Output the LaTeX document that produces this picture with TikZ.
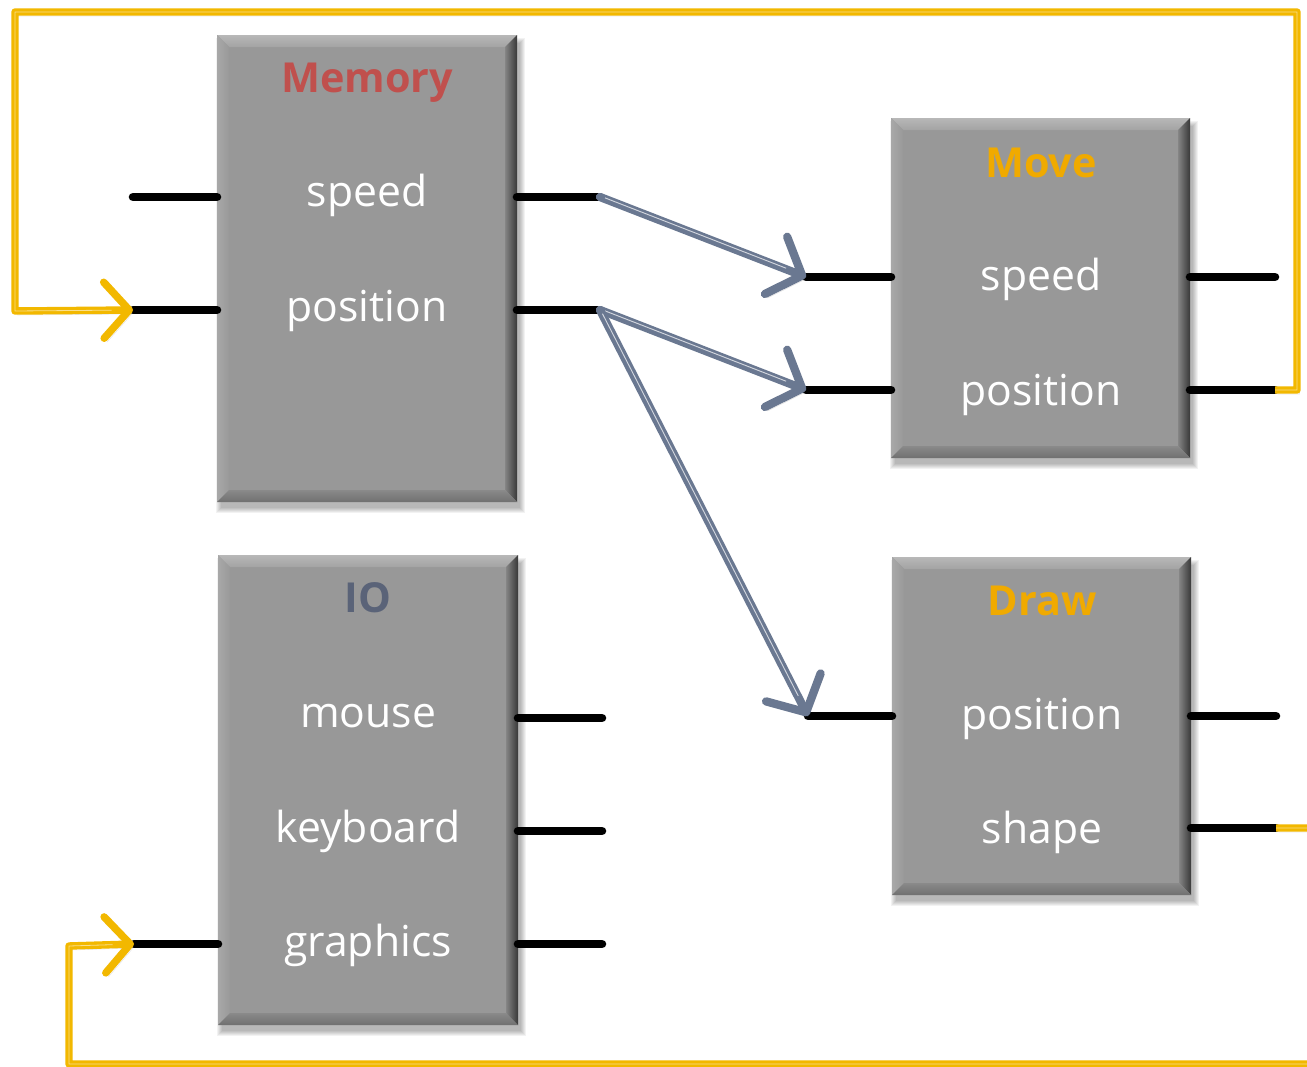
\documentclass[tikz,border=0pt]{standalone}
\usepackage{fontspec}
\setmainfont{Open Sans}
\usetikzlibrary{arrows.meta,calc,fit}
\definecolor{boxgray}{HTML}{989898}
\definecolor{memred}{HTML}{C0504D}
\definecolor{titlegold}{HTML}{F0AA00}
\definecolor{ioslate}{HTML}{5A6378}
\definecolor{flowslate}{HTML}{6A7891}
\definecolor{loopgold}{HTML}{F2B800}
\tikzset{
  frame/.style={inner sep=0pt, outer sep=0pt},
  portline/.style={line width=6.4pt, line cap=round, black},
  flow/.style={line width=6.2pt, flowslate, line cap=round, line join=round,
    -{Straight Barb[length=21pt,width=46pt,line cap=round,line join=round]},
    preaction={draw=black, opacity=0.12, transform canvas={shift={(2pt,-3pt)}}}},
  flowhi/.style={line width=0.7pt, white!70!flowslate, shorten >=16pt, shorten <=4pt,
    transform canvas={shift={(0pt,0.8pt)}}},
  loopback/.style={line width=5.6pt, loopgold, line join=round,
    -{Straight Barb[length=19pt,width=42pt,line cap=round,line join=round]},
    preaction={draw=black, opacity=0.10, transform canvas={shift={(2pt,-3pt)}}}},
  loophi/.style={line width=0.6pt, white!55!loopgold, shorten >=16pt},
  body/.style={anchor=base, text=white, font=\fontsize{32}{38}\selectfont},
  title/.style={anchor=base, font=\fontsize{31}{37}\selectfont\bfseries},
}
\begin{document}
\begin{tikzpicture}[x=0.75pt, y=-0.75pt]
\useasboundingbox (0,0) rectangle (1307,1067);
\clip (0,0) rectangle (1307,1067);
\fill[white] (0,0) rectangle (1307,1067);

% block outlines
\node[frame, fit={(217,35) (517,502)}] (mem) {};
\node[frame, fit={(891,118) (1190,458)}] (mov) {};
\node[frame, fit={(218,555) (518,1025)}] (io) {};
\node[frame, fit={(892,557) (1191,895)}] (drw) {};

% bevelled grey blocks with a soft shadow
\foreach \b in {mem,mov,io,drw}{
  \foreach \i in {0,...,5}{
    \fill[black, opacity=0.05]
      ($(\b.north west)+(4-\i,8-\i)$) rectangle ($(\b.south east)+(3+\i,6+\i)$);
  }
  \fill[boxgray] (\b.north west) rectangle (\b.south east);
  \shade[top color=white!72!black, bottom color=white!64!black]
    (\b.north west) -- (\b.north east) -- ++(-12,12) -- ($(\b.north west)+(12,12)$) -- cycle;
  \shade[left color=white!66!black, right color=white!60!black]
    (\b.north west) -- ($(\b.north west)+(12,12)$) -- ($(\b.south west)+(12,-12)$) -- (\b.south west) -- cycle;
  \shade[left color=white!52!black, right color=white!22!black]
    (\b.north east) -- (\b.south east) -- ++(-12,-12) -- ($(\b.north east)+(-12,12)$) -- cycle;
  \shade[top color=white!54!black, bottom color=white!44!black]
    (\b.south west) -- (\b.south east) -- ++(-12,-12) -- ($(\b.south west)+(12,-12)$) -- cycle;
}

% block labels
\node[title, text=memred] (mem-t) at (367,92) {Memory};
\node[body] (mem-sp) at (367,206) {speed};
\node[body] (mem-po) at (367,321) {position};

\node[title, text=titlegold] (mov-t) at (1041,177) {Move};
\node[body] (mov-sp) at (1041,290) {speed};
\node[body] (mov-po) at (1041,405) {position};

\node[title, text=ioslate] (io-t) at (368,612) {IO};
\node[body] (io-mo) at (368,727) {mouse};
\node[body] (io-kb) at (368,842) {keyboard};
\node[body] (io-gr) at (368,956) {graphics};

\node[title, text=titlegold] (drw-t) at (1042,615) {Draw};
\node[body] (drw-po) at (1042,729) {position};
\node[body] (drw-sh) at (1042,843) {shape};

% port ends
\coordinate (mem-sp-in)  at (133,197);
\coordinate (mem-po-in)  at (133,310);
\coordinate (mem-sp-out) at (600,197);
\coordinate (mem-po-out) at (600,310);
\coordinate (mov-sp-in)  at (806,277);
\coordinate (mov-po-in)  at (806,390);
\coordinate (mov-sp-out) at (1275,277);
\coordinate (mov-po-out) at (1275,390);
\coordinate (io-mo-out)  at (602,718);
\coordinate (io-kb-out)  at (602,831);
\coordinate (io-gr-out)  at (602,944);
\coordinate (io-gr-in)   at (134,944);
\coordinate (drw-po-in)  at (808,716);
\coordinate (drw-po-out) at (1276,716);
\coordinate (drw-sh-out) at (1276,828);

% port stubs
\draw[portline] (mem-sp-in) -- (mem-sp-in -| mem.west);
\draw[portline] (mem-po-in) -- (mem-po-in -| mem.west);
\draw[portline] (mem-sp-out -| mem.east) -- (mem-sp-out);
\draw[portline] (mem-po-out -| mem.east) -- (mem-po-out);
\draw[portline] (mov-sp-in) -- (mov-sp-in -| mov.west);
\draw[portline] (mov-po-in) -- (mov-po-in -| mov.west);
\draw[portline] (mov-sp-out -| mov.east) -- (mov-sp-out);
\draw[portline] (mov-po-out -| mov.east) -- (mov-po-out);
\draw[portline] (io-mo-out -| io.east) -- (io-mo-out);
\draw[portline] (io-kb-out -| io.east) -- (io-kb-out);
\draw[portline] (io-gr-out -| io.east) -- (io-gr-out);
\draw[portline] (io-gr-in) -- (io-gr-in -| io.west);
\draw[portline] (drw-po-in) -- (drw-po-in -| drw.west);
\draw[portline] (drw-po-out -| drw.east) -- (drw-po-out);
\draw[portline] (drw-sh-out -| drw.east) -- (drw-sh-out);

% data flow from Memory to Move and Draw
\draw[flow] (mem-sp-out) -- (mov-sp-in);
\draw[flowhi] (mem-sp-out) -- (mov-sp-in);
\draw[flow] (mem-po-out) -- (mov-po-in);
\draw[flowhi] (mem-po-out) -- (mov-po-in);
\draw[flow] (mem-po-out) -- (drw-po-in);
\draw[flowhi] (mem-po-out) -- (drw-po-in);

% feedback loops
\coordinate (loopA1) at (1297,390);
\coordinate (loopA2) at (1297,12);
\coordinate (loopA3) at (15,12);
\coordinate (loopA4) at (15,311);
\draw[loopback] (mov-po-out) -- (loopA1) -- (loopA2) -- (loopA3) -- (loopA4) -- (mem-po-in);
\draw[loophi] (mov-po-out) -- (loopA1) -- (loopA2) -- (loopA3) -- (loopA4) -- (mem-po-in);

\coordinate (loopB1) at (1330,828);
\coordinate (loopB2) at (1330,1064);
\coordinate (loopB3) at (69,1064);
\coordinate (loopB4) at (69,946);
\draw[loopback] (drw-sh-out) -- (loopB1) -- (loopB2) -- (loopB3) -- (loopB4) -- (io-gr-in);
\draw[loophi] (drw-sh-out) -- (loopB1) -- (loopB2) -- (loopB3) -- (loopB4) -- (io-gr-in);
\end{tikzpicture}
\end{document}
